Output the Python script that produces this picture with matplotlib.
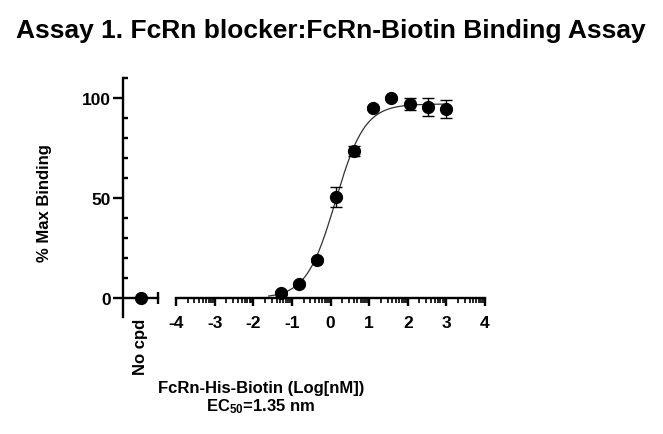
import numpy as np
import matplotlib
matplotlib.use("Agg")
import matplotlib.pyplot as plt
from matplotlib.ticker import FixedLocator, NullFormatter

plt.rcParams['font.family'] = ['Liberation Sans', 'DejaVu Sans']
plt.rcParams['font.weight'] = 'bold'
plt.rcParams['mathtext.fontset'] = 'custom'
plt.rcParams['mathtext.rm'] = 'Liberation Sans:bold'
plt.rcParams['mathtext.it'] = 'Liberation Sans:bold'
plt.rcParams['mathtext.bf'] = 'Liberation Sans:bold'

# ---- data ----
log_conc = [-1.29, -0.82, -0.34, 0.14, 0.61, 1.09, 1.57, 2.05, 2.52, 3.00]
binding = [2.4, 6.8, 19.0, 50.3, 73.7, 94.8, 100.0, 97.0, 95.3, 94.5]
binding_err = [1.0, 1.0, 1.0, 5.0, 2.5, 1.0, 1.0, 3.0, 4.5, 4.5]
nocpd_value = [0.0]
nocpd_err = [0.5]
fit_bottom = 0.0
fit_top = 97.0
fit_logec50 = 0.13
fit_hill = 1.15
x_ticks = [-4, -3, -2, -1, 0, 1, 2, 3, 4]
y_ticks = [0, 50, 100]
title = "Assay 1. FcRn blocker:FcRn-Biotin Binding Assay"
ylabel = "% Max Binding"
xlabel1 = "FcRn-His-Biotin (Log[nM])"
xlabel2 = r"EC$_{50}$=1.35 nm"

W, H = 663, 435
fig = plt.figure(figsize=(W / 100, H / 100), dpi=100)

def px_ax(x0, x1, ytop, ybot):
    return fig.add_axes([x0 / W, 1 - ybot / H, (x1 - x0) / W, (ybot - ytop) / H])

ytop, ybot = 79, 318
lw = 1.7
tick_fs = 12.5

# No-compound axes (holds the y axis)
ax0 = px_ax(123, 158, ytop, ybot)
ax0.set_xlim(0, 1)
ax0.set_ylim(-9.5, 110)
ax0.errorbar([0.514], nocpd_value, yerr=nocpd_err, fmt='o', color='black',
             markersize=8.5, capsize=4, elinewidth=1, capthick=1)
for s in ['top', 'right']:
    ax0.spines[s].set_visible(False)
ax0.spines['left'].set_linewidth(lw)
ax0.spines['bottom'].set_position(('data', 0))
ax0.spines['bottom'].set_bounds(0.06, 1)
ax0.spines['bottom'].set_linewidth(lw)
ax0.set_yticks(y_ticks)
ax0.yaxis.set_minor_locator(FixedLocator(np.arange(-10, 111, 10)))
ax0.tick_params(axis='y', which='major', direction='out', length=7, width=lw,
                labelsize=tick_fs, pad=2)
ax0.tick_params(axis='y', which='minor', direction='in', length=3.5, width=lw)
ax0.set_xticks([0.514])
ax0.set_xticklabels(['No cpd'], rotation=90, fontsize=12, fontweight='bold')
ax0.xaxis.set_minor_locator(FixedLocator([1.0]))
ax0.tick_params(axis='x', which='major', length=0, pad=14)
ax0.tick_params(axis='x', which='minor', direction='inout', length=9, width=lw)
ax0.patch.set_alpha(0)
for t in ax0.get_yticklabels():
    t.set_fontweight('bold')

# Main dose-response axes
ax1 = px_ax(176, 485, ytop, ybot)
ax1.set_xlim(-4, 4)
ax1.set_ylim(-9.5, 110)
xf = np.linspace(-1.6, 3.05, 300)
yf = fit_bottom + (fit_top - fit_bottom) / (1 + 10 ** ((fit_logec50 - xf) * fit_hill))
ax1.plot(xf, yf, color='#333333', linewidth=0.9)
ax1.errorbar(log_conc, binding, yerr=binding_err, fmt='o', color='black',
             markersize=8.5, capsize=4, elinewidth=1, capthick=1, zorder=3)
for s in ['top', 'right', 'left']:
    ax1.spines[s].set_visible(False)
ax1.spines['bottom'].set_position(('data', 0))
ax1.spines['bottom'].set_linewidth(lw)
ax1.set_yticks([])
ax1.set_xticks(x_ticks)
ax1.set_xticklabels([str(v) for v in x_ticks], fontsize=tick_fs, fontweight='bold')
minor = [i + np.log10(k) for i in range(-4, 4) for k in range(2, 10)]
ax1.xaxis.set_minor_locator(FixedLocator(minor))
ax1.xaxis.set_minor_formatter(NullFormatter())
ax1.tick_params(axis='x', which='major', direction='out', length=6, width=lw, pad=6)
ax1.tick_params(axis='x', which='minor', direction='out', length=3.5, width=1.2)
ax1.patch.set_alpha(0)

fig.text(331 / W, 1 - 31 / H, title, ha='center', va='center', fontsize=19,
         fontweight='bold')
fig.text(45 / W, 1 - 203 / H, ylabel, ha='center', va='center', rotation=90,
         fontsize=12, fontweight='bold')
fig.text(261 / W, 1 - 388 / H, xlabel1, ha='center', va='center', fontsize=12,
         fontweight='bold')
fig.text(261 / W, 1 - 407 / H, xlabel2, ha='center', va='center', fontsize=12,
         fontweight='bold')

fig.savefig("out.png", dpi=100)
